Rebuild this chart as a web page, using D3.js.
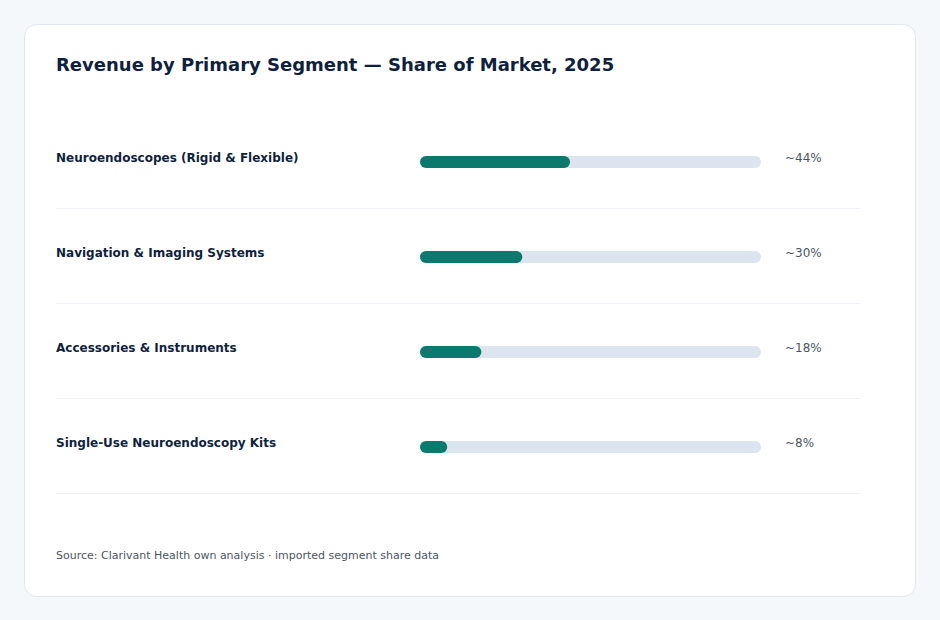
<!DOCTYPE html>
<html>
<head>
<meta charset="utf-8">
<script src="https://cdn.jsdelivr.net/npm/d3@7"></script>
<style>
  html, body { margin: 0; padding: 0; background: #f5f8fb; }
  svg { display: block; font-family: "DejaVu Sans", sans-serif; }
</style>
</head>
<body>
<svg id="chart" width="940" height="620"></svg>
<script>
// Segment share data
const segments = [
    "Neuroendoscopes (Rigid & Flexible)",
    "Navigation & Imaging Systems",
    "Accessories & Instruments",
    "Single-Use Neuroendoscopy Kits"
]
const shares = [44, 30, 18, 8]
const shareLabels = ["~44%", "~30%", "~18%", "~8%"]

const svg = d3.select("#chart")

// Card
svg.append("rect")
    .attr("x", 24.5).attr("y", 24.5)
    .attr("width", 891).attr("height", 572)
    .attr("rx", 12)
    .attr("fill", "#ffffff")
    .attr("stroke", "#e1e7ef")

svg.append("text")
    .attr("x", 56).attr("y", 71)
    .attr("font-size", 18).attr("font-weight", "bold")
    .attr("fill", "#0f1f3d")
    .text("Revenue by Primary Segment — Share of Market, 2025")

const rowTop = 110
const rowHeight = 95

const y = d3.scaleBand()
    .domain(segments)
    .range([rowTop, rowTop + rowHeight * segments.length])

const x = d3.scaleLinear()
    .domain([0, 100])
    .range([420, 761])

const barH = 12

const rows = svg.selectAll("g.row")
    .data(segments)
    .join("g")
    .attr("class", "row")
    .attr("transform", d => `translate(0,${y(d)})`)

rows.append("text")
    .attr("x", 56).attr("y", 52)
    .attr("font-size", 12).attr("font-weight", "bold")
    .attr("fill", "#0f1f3d")
    .text(d => d)

// track
rows.append("rect")
    .attr("x", x(0)).attr("y", 46)
    .attr("width", x(100) - x(0)).attr("height", barH)
    .attr("rx", barH / 2)
    .attr("fill", "#dce5ef")

// value bar
rows.append("rect")
    .attr("x", x(0)).attr("y", 46)
    .attr("width", (d, i) => x(shares[i]) - x(0)).attr("height", barH)
    .attr("rx", barH / 2)
    .attr("fill", "#0b7a6e")

rows.append("text")
    .attr("x", 785).attr("y", 52)
    .attr("font-size", 12)
    .attr("fill", "#4a5563")
    .text((d, i) => shareLabels[i])

// separators
rows.append("line")
    .attr("x1", 56).attr("x2", 860)
    .attr("y1", 98.5).attr("y2", 98.5)
    .attr("stroke", "#eef2f6")

svg.append("text")
    .attr("x", 56).attr("y", 559)
    .attr("font-size", 11)
    .attr("fill", "#4b5563")
    .text("Source: Clarivant Health own analysis · imported segment share data")
</script>
</body>
</html>
